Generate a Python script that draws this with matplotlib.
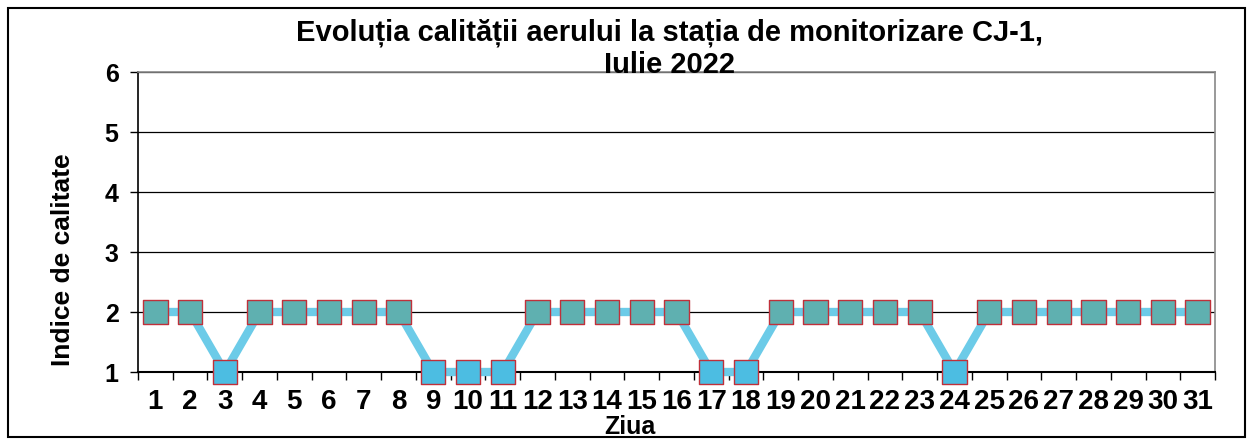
import matplotlib
matplotlib.use("Agg")
import matplotlib.pyplot as plt
from matplotlib.patches import Rectangle

days = list(range(1, 32))
values = [2, 2, 1, 2, 2, 2, 2, 2, 1, 1, 1, 2, 2, 2, 2, 2, 1, 1, 2, 2, 2, 2, 2, 1, 2, 2, 2, 2, 2, 2, 2]
day_labels = [str(d) for d in days]
y_ticks = [1, 2, 3, 4, 5, 6]
title = "Evoluția calității aerului la stația de monitorizare CJ-1,\nIulie 2022"
x_label = "Ziua"
y_label = "Indice de calitate"

plt.rcParams['font.family'] = ['Liberation Sans', 'DejaVu Sans']
plt.rcParams['font.weight'] = 'bold'
narrow = ['Liberation Sans Narrow', 'Liberation Sans', 'DejaVu Sans']

W, H = 1250, 445
fig = plt.figure(figsize=(W / 100, H / 100), dpi=100)
fig.patch.set_facecolor('white')

ax = fig.add_axes([138 / W, 1 - 372 / H, (1215 - 138) / W, (372 - 72) / H])

ax.plot(days, values, color='#6ccbe8', lw=6, zorder=3, clip_on=False, solid_joinstyle='miter')
marker_colors = ['#5fb0b0' if v == 2 else '#4cbde2' for v in values]
ax.scatter(days, values, marker='s', s=17.5 ** 2, c=marker_colors,
           edgecolors='#c0303a', linewidths=1.0, zorder=4, clip_on=False)

ax.set_xlim(0.5, 31.5)
ax.set_ylim(1, 6)
ax.set_yticks(y_ticks)
ax.set_yticklabels([str(t) for t in y_ticks], fontsize=18, fontweight='bold')
ax.set_xticks(days)
ax.set_xticklabels(day_labels, fontsize=20, fontweight='bold', family=narrow)
ax.set_xticks([d + 0.5 for d in [0] + days], minor=True)
ax.tick_params(axis='x', which='major', length=0, pad=12)
ax.tick_params(axis='x', which='minor', length=6, width=1, direction='out', color='black')
ax.tick_params(axis='y', length=6, width=1, direction='out', pad=8)

ax.yaxis.grid(True, color='black', lw=0.9)
ax.set_axisbelow(True)
for s in ['top', 'right']:
    ax.spines[s].set_color('#888888')
    ax.spines[s].set_linewidth(1.2)
ax.spines['left'].set_color('black')
ax.spines['bottom'].set_color('black')
ax.spines['left'].set_linewidth(1.2)
ax.spines['bottom'].set_linewidth(1.5)

fig.text(670 / W, 1 - 49 / H, title, ha='center', va='center', fontsize=21,
         fontweight='bold', linespacing=1.2)
fig.text(630 / W, 1 - 427 / H, x_label, ha='center', va='center', fontsize=18, fontweight='bold')
fig.text(63 / W, 1 - 260 / H, y_label, ha='center', va='center', rotation=90,
         fontsize=19, fontweight='bold')

fig.add_artist(Rectangle((8 / W, 1 - 437 / H), (1245 - 8) / W, (437 - 8) / H,
                         transform=fig.transFigure, fill=False, edgecolor='black', lw=1.5))

fig.savefig('out.png', dpi=100)
